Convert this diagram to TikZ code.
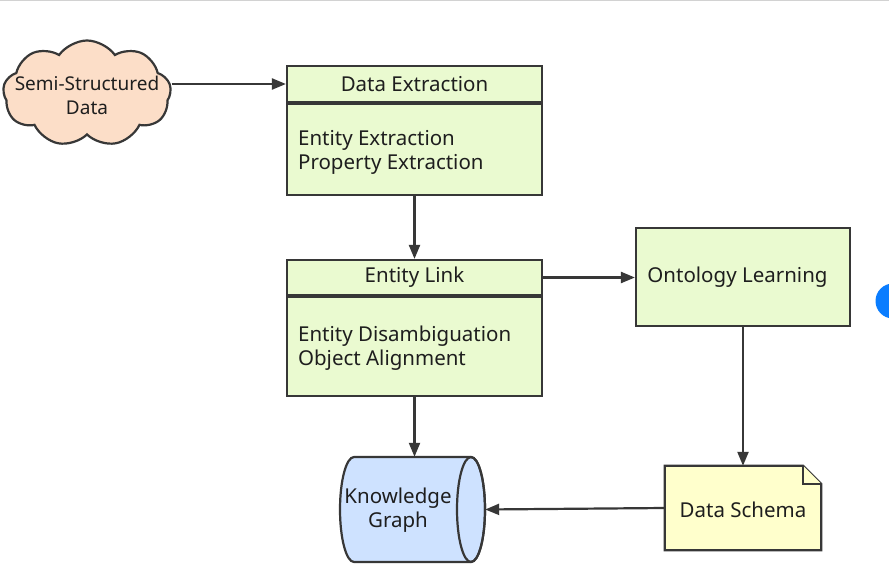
\documentclass[tikz,border=0pt]{standalone}
\usepackage{fontspec}
\setmainfont{Noto Sans}
\usetikzlibrary{arrows.meta,shapes.symbols}
\definecolor{boxgreen}{RGB}{234,250,208}
\definecolor{cloudfill}{RGB}{252,222,200}
\definecolor{kgfill}{RGB}{206,226,255}
\definecolor{dsfill}{RGB}{255,255,204}
\definecolor{linecol}{RGB}{55,55,55}
\definecolor{txtcol}{RGB}{30,30,30}
\definecolor{dotblue}{RGB}{10,125,255}
\tikzset{
  gbox/.style={draw=linecol, fill=boxgreen, line width=2.2pt, inner sep=0pt, font=\fontsize{20.5}{24}\selectfont, text=txtcol},
  txt/.style={font=\fontsize{20.5}{24}\selectfont, text=txtcol, align=left, inner sep=0pt},
  arr/.style={draw=linecol, line width=2.2pt, -{Triangle[length=14pt,width=11pt]}},
}
\begin{document}
\begin{tikzpicture}[x=1pt,y=-1pt]
\useasboundingbox (0,0) rectangle (889,573);
\fill[white] (0,0) rectangle (889,573);
\draw[gray!35, line width=1.2pt] (0,0.6) -- (889,0.6);
\begin{scope}
\clip (0,0) rectangle (889,573);
\fill[dotblue] (893,301) circle (17.5);
\end{scope}

% cloud
\node[cloud, cloud puffs=9, cloud puff arc=110, aspect=1.6, draw=linecol, fill=cloudfill, line width=2.2pt,
      minimum width=168, minimum height=106, inner sep=0pt] (cloud) at (87,93.5) {};
\node[txt, align=center, font=\fontsize{19}{24}\selectfont] (cloudt) at (87,95) {Semi-Structured\\Data};

% Data Extraction
\node[gbox, minimum width=255, minimum height=36] (deh) at (414.5,84) {Data Extraction};
\node[gbox, minimum width=255, minimum height=91, anchor=north] (deb) at (deh.south) {};
\node[txt, anchor=west] (det) at ([xshift=12,yshift=-3]deb.west) {Entity Extraction\\Property Extraction};

% Entity Link
\node[gbox, minimum width=255, minimum height=35] (elh) at (414.5,277.5) {Entity Link};
\node[gbox, minimum width=255, minimum height=99, anchor=north] (elb) at (elh.south) {};
\node[txt, anchor=west] (elt) at ([xshift=12,yshift=-1]elb.west) {Entity Disambiguation\\Object Alignment};

% Ontology Learning
\node[gbox, minimum width=214, minimum height=98] (ol) at (743,277) {\hspace*{-11pt}Ontology Learning};

% Data Schema (note shape)
\node[minimum width=156, minimum height=84, inner sep=0pt] (ds) at (743,508) {};
\filldraw[draw=linecol, fill=dsfill, line width=2.2pt, line join=miter]
  (ds.north west) -- ([xshift=-18]ds.north east) -- ([yshift=-18]ds.north east) -- (ds.south east) -- (ds.south west) -- cycle;
\filldraw[draw=linecol, fill=dsfill, line width=2.2pt, line join=miter]
  ([xshift=-18]ds.north east) -- ([xshift=-18,yshift=-18]ds.north east) -- ([yshift=-18]ds.north east);
\node[txt] (dst) at ([yshift=-2]ds) {Data Schema};

% Knowledge Graph (horizontal cylinder)
\node[minimum width=145, minimum height=105, inner sep=0pt] (kg) at (412.5,509.5) {};
\filldraw[draw=linecol, fill=kgfill, line width=2.2pt]
  (354,457) -- (471,457) arc (-90:90:14 and 52.5) -- (354,562) arc (90:270:14 and 52.5) -- cycle;
\draw[linecol, line width=2.2pt] (471,509.5) ellipse (14 and 52.5);
\node[txt, align=center] (kgt) at (398,510) {Knowledge\\Graph};

% connectors
\draw[arr] (cloud.east |- deh.west) -- (deh.west);
\draw[arr] (deb.south) -- (elh.north);
\draw[arr] (elh.east) -- (ol.west |- elh.east);
\draw[arr] (ol.south) -- (ds.north);
\draw[arr] (elb.south) -- (elb.south |- kg.north);
\draw[arr] (ds.west) -- (kg.east);
\end{tikzpicture}
\end{document}
